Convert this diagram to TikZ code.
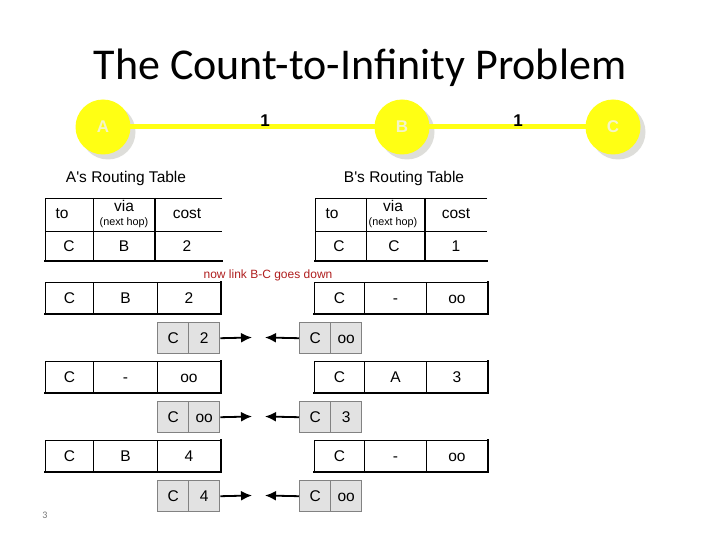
\documentclass[tikz,border=0pt]{standalone}
\usepackage{fontspec}
\setmainfont{Carlito}
\newfontfamily\arialf{Liberation Sans}
\usetikzlibrary{arrows.meta}
\definecolor{ylw}{RGB}{255,255,20}
\definecolor{shd}{RGB}{222,222,218}
\definecolor{lbl}{RGB}{245,245,200}
\definecolor{msgfill}{RGB}{226,226,226}
\definecolor{msgdraw}{RGB}{130,130,130}
\definecolor{darkred}{RGB}{175,30,30}
\tikzset{
  router/.style={circle, fill=ylw, minimum size=55pt, inner sep=0, font=\arialf\bfseries\fontsize{17}{19}\selectfont, text=lbl},
  shadowc/.style={circle, fill=shd, minimum size=55pt, inner sep=0},
  link/.style={draw=ylw, line width=5pt},
  cost/.style={font=\arialf\bfseries\fontsize{17}{19}\selectfont, anchor=center},
  cell/.style={draw=black, line width=0.9pt, minimum height=31pt, inner sep=0, anchor=north west, font=\arialf\fontsize{15.5}{17}\selectfont, text height=11pt, text depth=0pt},
  txt/.style={font=\arialf\fontsize{15.5}{17}\selectfont, inner sep=0},
  small/.style={font=\arialf\fontsize{10.8}{12}\selectfont, inner sep=0},
  thickedge/.style={draw=black, line width=2pt, line cap=rect},
  thinline/.style={draw=black, line width=0.9pt},
  msg/.style={draw=msgdraw, fill=msgfill, line width=1.4pt, minimum height=31pt, minimum width=31pt, inner sep=0, anchor=north west, font=\arialf\fontsize{15.5}{17}\selectfont, text height=11pt, text depth=0pt},
  arr/.style={draw=black, line width=1.8pt, -{Latex[length=11pt,width=10pt]}},
}
\newcommand\rowA[5]{%
  \node[cell,minimum width=48pt] (#1a) at (45,#2) {#3};
  \node[cell,minimum width=64pt] (#1b) at (93,#2) {#4};
  \node[cell,minimum width=63pt] (#1c) at (157,#2) {#5};
  \draw[thickedge] (#1a.south west) -- (#1c.south east) -- (#1c.north east);
}
\newcommand\rowB[5]{%
  \node[cell,minimum width=50pt] (#1a) at (314,#2) {#3};
  \node[cell,minimum width=62pt] (#1b) at (364,#2) {#4};
  \node[cell,minimum width=61pt] (#1c) at (426,#2) {#5};
  \draw[thickedge] (#1a.south west) -- (#1c.south east) -- (#1c.north east);
}
\newcommand\msgpair[6]{% name, y, left1, left2, right1, right2
  \node[msg] (#1la) at (157,#2) {#3};
  \node[msg] (#1lb) at (188,#2) {#4};
  \node[msg] (#1ra) at (299,#2) {#5};
  \node[msg] (#1rb) at (330,#2) {#6};
  \coordinate (#1lt) at (252,#2+15.5);
  \coordinate (#1rt) at (265,#2+15.5);
  \draw[arr] (#1lb.east) -- (#1lt);
  \draw[arr] (#1ra.west) -- (#1rt);
}
\begin{document}
\begin{tikzpicture}[x=1pt,y=-1pt]
\useasboundingbox (0,0) rectangle (720,540);
% title
\node[font=\fontsize{44}{50}\selectfont, inner sep=0] (title) at (360,68) {The Count-to-Infinity Problem};
% network
\node[shadowc] (As) at (108,132) {};
\node[shadowc] (Bs) at (407,132) {};
\node[shadowc] (Cs) at (618,132) {};
\draw[link] (103,127) coordinate (la) -- (402,127) coordinate (lb);
\draw[link] (lb) -- (613,127);
\node[router] (A) at (103,127) {A};
\node[router] (B) at (402,127) {B};
\node[router] (C) at (613,127) {C};
\node[cost] (c1) at (265,121) {1};
\node[cost] (c2) at (518,121) {1};
% captions
\node[txt] (capA) at (126,178) {A's Routing Table};
\node[txt] (capB) at (404,178) {B's Routing Table};
% A header table
\draw[thinline] (222,198) -- (45,198) -- (45,261);
\draw[thinline] (45,231) -- (222,231);
\draw[thinline] (93,198) -- (93,261);
\draw[draw=black, line width=1.6pt] (155,198) -- (155,261);
\draw[thickedge] (45,261) -- (222,261);
\node[txt] (ha1) at (62,214) {to};
\node[txt] (ha2) at (124,206) {via};
\node[small] (ha2b) at (124,223) {(next hop)};
\node[txt] (ha3) at (187,214) {cost};
\node[txt] (da1) at (69,246) {C};
\node[txt] (da2) at (124,246) {B};
\node[txt] (da3) at (187,246) {2};
% B header table
\draw[thinline] (487,198) -- (315,198) -- (315,261);
\draw[thinline] (315,231) -- (487,231);
\draw[thinline] (366,198) -- (366,261);
\draw[draw=black, line width=1.6pt] (425,198) -- (425,261);
\draw[thickedge] (315,261) -- (487,261);
\node[txt] (hb1) at (332,214) {to};
\node[txt] (hb2) at (393,206) {via};
\node[small] (hb2b) at (393,223) {(next hop)};
\node[txt] (hb3) at (456,214) {cost};
\node[txt] (db1) at (339,246) {C};
\node[txt] (db2) at (394,246) {C};
\node[txt] (db3) at (456,246) {1};
% event
\node[font=\arialf\fontsize{12}{14}\selectfont, text=darkred, inner sep=0] (ev) at (268,275) {now link B-C goes down};
% rows
\rowA{ra1}{282}{C}{B}{2}
\rowB{rb1}{282}{C}{-}{oo}
\msgpair{m1}{322}{C}{2}{C}{oo}
\rowA{ra2}{361}{C}{-}{oo}
\rowB{rb2}{361}{C}{A}{3}
\msgpair{m2}{401}{C}{oo}{C}{3}
\rowA{ra3}{440}{C}{B}{4}
\rowB{rb3}{440}{C}{-}{oo}
\msgpair{m3}{480}{C}{4}{C}{oo}
% page number
\node[font=\fontsize{10}{12}\selectfont, text=black!55, inner sep=0] (pg) at (45,515) {3};
\end{tikzpicture}
\end{document}
